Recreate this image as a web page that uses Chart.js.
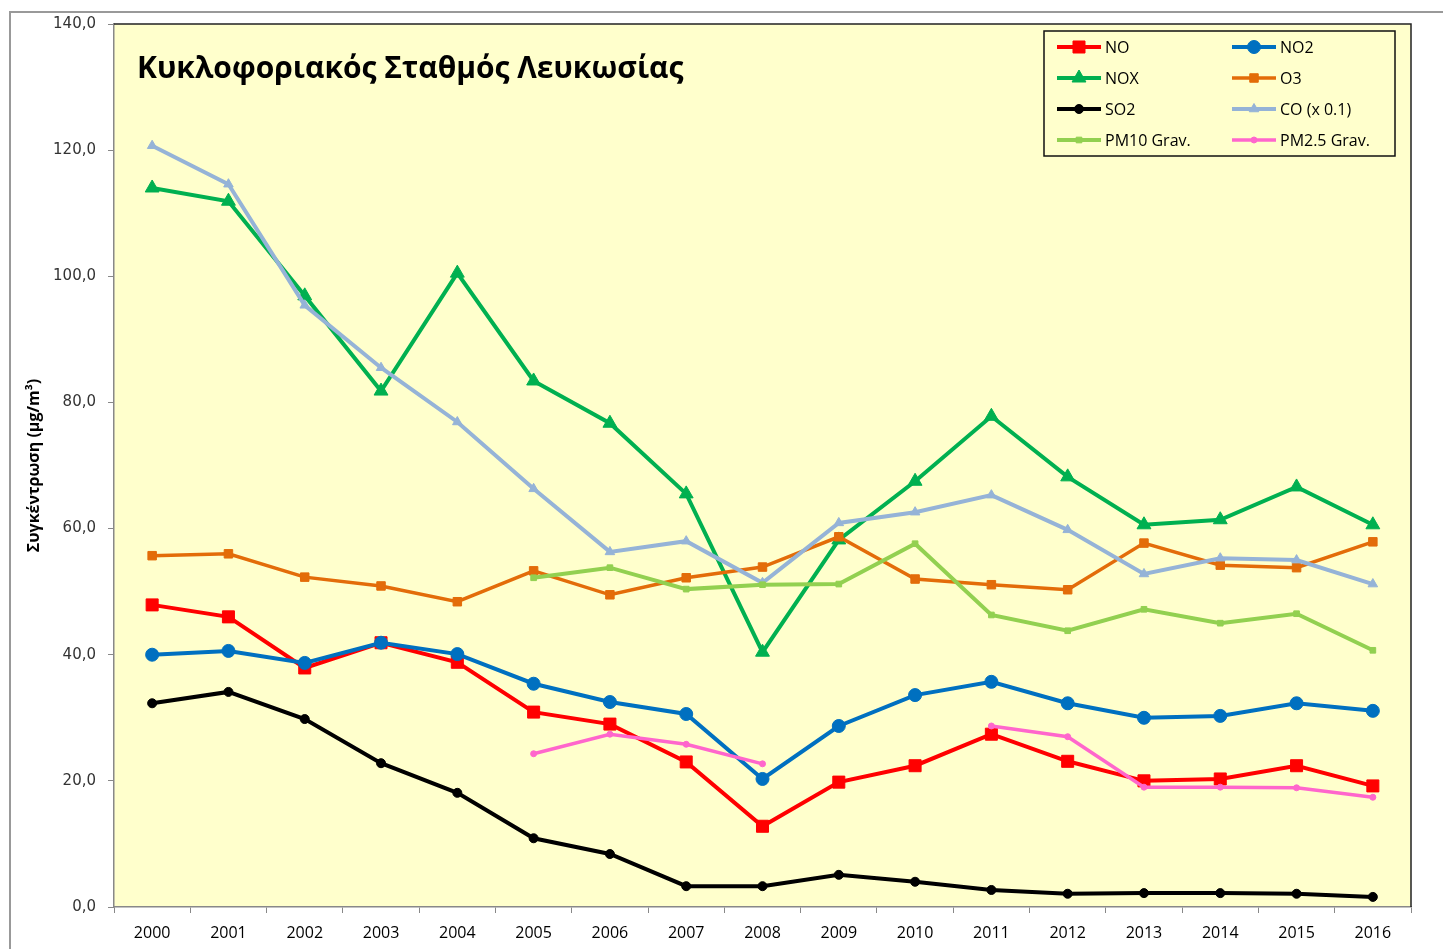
<!DOCTYPE html>
<html>
<head>
<meta charset="utf-8">
<script src="https://cdn.jsdelivr.net/npm/chart.js@4.4.1/dist/chart.umd.min.js"></script>
<style>
  html, body { margin: 0; padding: 0; background: #fff; }
  #wrap { width: 1443px; height: 949px; position: relative; }
</style>
</head>
<body>
<div id="wrap"><canvas id="chart" width="1443" height="949"></canvas></div>
<script>
const years = ['2000', '2001', '2002', '2003', '2004', '2005', '2006', '2007', '2008',
  '2009', '2010', '2011', '2012', '2013', '2014', '2015', '2016'];

const no   = [47.9, 46.0, 37.9, 41.9, 38.8, 30.9, 29.0, 23.0, 12.8, 19.8, 22.4, 27.4, 23.1, 20.0, 20.3, 22.4, 19.2];
const no2  = [40.0, 40.6, 38.7, 41.9, 40.1, 35.4, 32.5, 30.6, 20.3, 28.7, 33.6, 35.7, 32.3, 30.0, 30.3, 32.3, 31.1];
const nox  = [114.0, 111.9, 96.9, 81.8, 100.5, 83.4, 76.7, 65.5, 40.4, 58.2, 67.5, 77.8, 68.2, 60.6, 61.4, 66.6, 60.6];
const o3   = [55.7, 56.0, 52.3, 50.9, 48.4, 53.3, 49.5, 52.2, 53.9, 58.7, 52.0, 51.1, 50.3, 57.7, 54.2, 53.8, 57.9];
const so2  = [32.3, 34.1, 29.8, 22.8, 18.1, 10.9, 8.4, 3.3, 3.3, 5.1, 4.0, 2.7, 2.1, 2.2, 2.2, 2.1, 1.6];
const co   = [120.7, 114.6, 95.4, 85.5, 76.9, 66.3, 56.3, 58.0, 51.4, 60.9, 62.6, 65.3, 59.8, 52.8, 55.3, 55.0, 51.2];
const pm10 = [null, null, null, null, null, 52.2, 53.8, 50.4, 51.1, 51.2, 57.6, 46.3, 43.8, 47.2, 45.0, 46.5, 40.7];
const pm25 = [null, null, null, null, null, 24.3, 27.4, 25.8, 22.7, null, null, 28.7, 27.0, 19.0, 19.0, 18.9, 17.4];

const yTicks = { min: 0, max: 140, step: 20 };
const title = 'Κυκλοφοριακός Σταθμός Λευκωσίας';
const yTitle = 'Συγκέντρωση (μg/m³)';

function series(label, data, color, style, radius, width) {
  return {
    label, data,
    borderColor: color, backgroundColor: color,
    pointStyle: style, pointRadius: radius, pointHoverRadius: radius,
    pointBorderWidth: 1, borderWidth: width,
    tension: 0, spanGaps: false, fill: false
  };
}

const datasets = [
  series('NO', no, '#FF0000', 'rect', 8.5, 4),
  series('NO2', no2, '#0070C0', 'circle', 6.5, 4),
  series('NOX', nox, '#00B050', 'triangle', 8, 4),
  series('O3', o3, '#E36C09', 'rect', 6, 3.5),
  series('SO2', so2, '#000000', 'circle', 4.5, 4),
  series('CO (x 0.1)', co, '#95B3D7', 'triangle', 5.5, 4),
  series('PM10 Grav.', pm10, '#92D050', 'rect', 4, 4),
  series('PM2.5 Grav.', pm25, '#FF66CC', 'circle', 3, 3.5)
];
// later series drawn on top, like the original
datasets.forEach((d, i) => { d.order = datasets.length - i; });

const frame = {
  id: 'frame',
  beforeDraw(chart) {
    const { ctx, chartArea: a } = chart;
    ctx.save();
    ctx.strokeStyle = '#999';
    ctx.lineWidth = 2;
    ctx.beginPath();
    ctx.moveTo(10, chart.height);
    ctx.lineTo(10, 12);
    ctx.lineTo(chart.width, 12);
    ctx.stroke();
    ctx.fillStyle = '#FFFFCC';
    ctx.fillRect(a.left, a.top, a.right - a.left, a.bottom - a.top);
    ctx.restore();
  },
  afterDraw(chart) {
    const { ctx, chartArea: a } = chart;
    ctx.save();
    ctx.strokeStyle = '#222';
    ctx.lineWidth = 1.5;
    ctx.beginPath();
    ctx.moveTo(a.left, a.top);
    ctx.lineTo(a.right, a.top);
    ctx.lineTo(a.right, a.bottom);
    ctx.stroke();

    // chart title inside the plot
    ctx.fillStyle = '#000';
    ctx.font = 'bold 30px "Open Sans", sans-serif';
    ctx.textBaseline = 'middle';
    ctx.fillText(title, a.left + 23, a.top + 45);

    // legend box top right
    const w = 351, h = 125;
    const x0 = a.right - 16 - w, y0 = a.top + 7;
    ctx.fillStyle = '#FFFFCC';
    ctx.fillRect(x0, y0, w, h);
    ctx.strokeStyle = '#111';
    ctx.lineWidth = 1.5;
    ctx.strokeRect(x0, y0, w, h);
    ctx.font = '16px "Open Sans", sans-serif';
    chart.data.datasets.forEach((d, i) => {
      const col = i % 2, row = Math.floor(i / 2);
      const lx = x0 + 13 + col * 175;
      const ly = y0 + 16 + row * 31;
      ctx.strokeStyle = d.borderColor;
      ctx.lineWidth = d.borderWidth;
      ctx.beginPath();
      ctx.moveTo(lx, ly);
      ctx.lineTo(lx + 44, ly);
      ctx.stroke();
      ctx.fillStyle = d.backgroundColor;
      ctx.lineWidth = 1;
      Chart.helpers.drawPoint(ctx, { pointStyle: d.pointStyle, radius: d.pointRadius, rotation: 0, borderWidth: 1 }, lx + 22, ly);
      ctx.fillStyle = '#000';
      ctx.fillText(d.label, lx + 48, ly + 1);
    });
    ctx.restore();
  }
};

new Chart(document.getElementById('chart'), {
  type: 'line',
  data: { labels: years, datasets },
  options: {
    responsive: false,
    animation: false,
    layout: { padding: { left: 0, top: 24, right: 32, bottom: 0 } },
    plugins: { legend: { display: false }, tooltip: { enabled: false } },
    scales: {
      x: {
        offset: true,
        grid: { offset: true, drawOnChartArea: false, drawTicks: true, tickLength: 6, color: '#888' },
        border: { color: '#888', width: 1.5 },
        ticks: { color: '#000', font: { family: 'Open Sans', size: 16 }, padding: 11, maxRotation: 0 },
        afterFit(s) { s.height = 42; }
      },
      y: {
        min: yTicks.min, max: yTicks.max,
        grid: { drawOnChartArea: false, drawTicks: true, tickLength: 6, color: '#888' },
        border: { color: '#888', width: 1.5 },
        ticks: {
          stepSize: yTicks.step, color: '#333', padding: 12,
          font: { family: 'DejaVu Sans', size: 15 },
          callback: v => v.toFixed(1).replace('.', ',')
        },
        title: {
          display: true, text: yTitle, color: '#000',
          font: { family: 'Open Sans', size: 16, weight: 'bold' },
          padding: { top: 25, bottom: 0 }
        },
        afterFit(s) { s.width = 114; }
      }
    }
  },
  plugins: [frame]
});
</script>
</body>
</html>
